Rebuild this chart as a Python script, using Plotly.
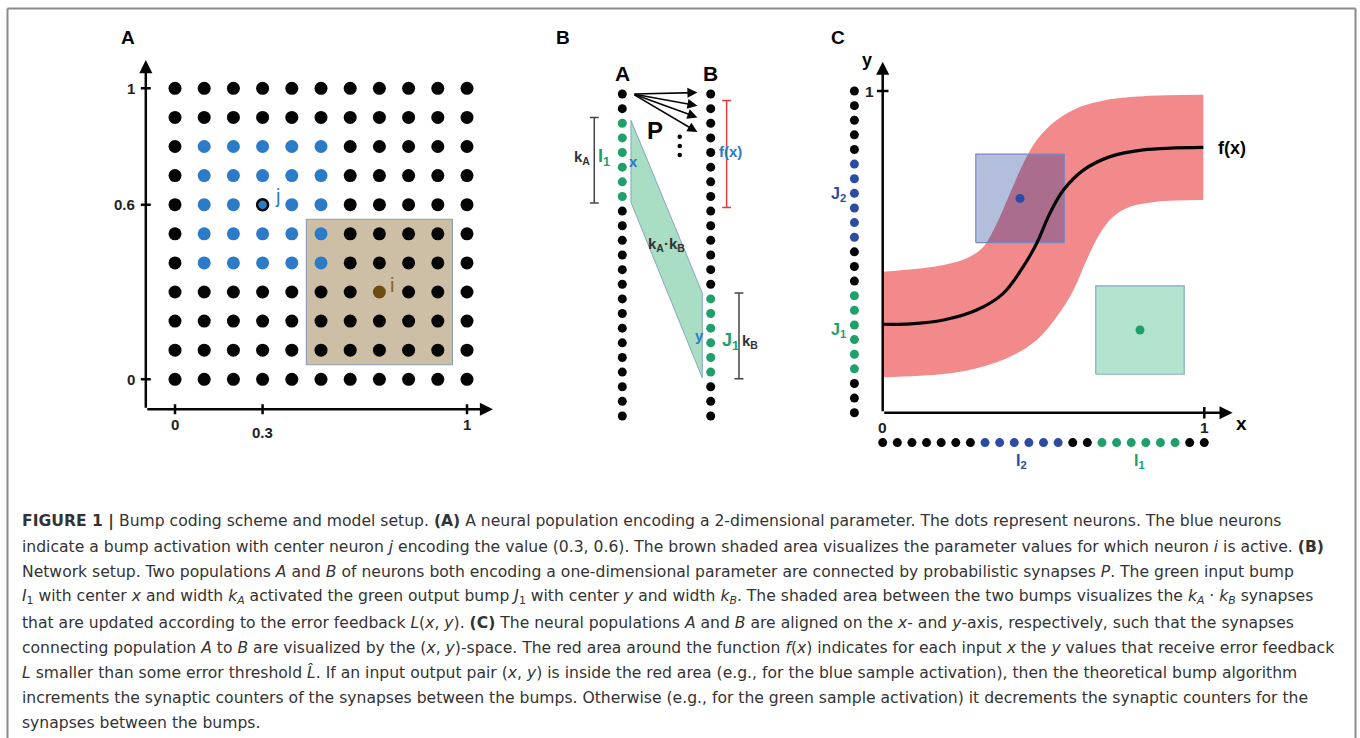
import plotly.graph_objects as go

W, H = 1360, 738

# ---------------- Panel A data ----------------
grid_values = [0.0, 0.1, 0.2, 0.3, 0.4, 0.5, 0.6, 0.7, 0.8, 0.9, 1.0]
bump_j_x = [0.1, 0.2, 0.3, 0.4, 0.5]
bump_j_y = [0.4, 0.5, 0.6, 0.7, 0.8]
neuron_j = [0.3, 0.6]
neuron_i = [0.7, 0.3]
field_i_half = 0.25
a_xticks = [0.0, 0.3, 1.0]
a_xticklabels = ["0", "0.3", "1"]
a_xlabel_y = [-0.157, -0.183, -0.157]
a_yticks = [0.0, 0.6, 1.0]
a_yticklabels = ["0", "0.6", "1"]
a_axis_origin = [-0.1, -0.103]
a_axis_tip = [1.089, 1.097]

# ---------------- Panel B data ----------------
n_neurons_B = 23
popA_bump = [2, 3, 4, 5, 6, 7]        # I1
popB_bump = [14, 15, 16, 17, 18, 19]  # J1
bumpA_span = [1.8, 7.4]
bumpB_span = [13.6, 19.4]
kA_span = [1.6, 7.45]
kB_span = [13.6, 19.45]
fx_span = [0.45, 7.75]
synapse_source = [0.12, 0.0]
synapse_targets_y = [-0.1, 0.8, 1.6, 2.6]
synapse_target_x = 0.85
ellipsis_y = [2.92, 3.55, 4.17]

# ---------------- Panel C data ----------------
n_neurons_C = 23
c_x_blue = [7, 8, 9, 10, 11, 12]     # I2
c_x_green = [15, 16, 17, 18, 19, 20]  # I1
c_y_blue = [12, 13, 14, 15, 16, 17]   # J2
c_y_green = [3, 4, 5, 6, 7, 8]        # J1
curve_x = [0.0, 0.085, 0.189, 0.292, 0.375, 0.437, 0.479, 0.52, 0.562, 0.624, 0.707, 0.81, 0.997]
curve_y = [0.275, 0.276, 0.288, 0.319, 0.371, 0.454, 0.527, 0.62, 0.692, 0.754, 0.796, 0.817, 0.825]
band_up_x = [0.0, 0.189, 0.271, 0.313, 0.355, 0.396, 0.437, 0.479, 0.541, 0.603, 0.707, 0.81, 0.997]
band_up_y = [0.438, 0.459, 0.485, 0.516, 0.589, 0.682, 0.775, 0.848, 0.91, 0.946, 0.974, 0.984, 0.988]
band_lo_x = [0.0, 0.189, 0.292, 0.396, 0.479, 0.541, 0.593, 0.634, 0.676, 0.717, 0.769, 0.852, 0.997]
band_lo_y = [0.11, 0.12, 0.138, 0.174, 0.226, 0.298, 0.381, 0.475, 0.558, 0.609, 0.64, 0.656, 0.661]
blue_sample = [0.427, 0.666]
green_sample = [0.8, 0.257]
sample_half = 0.1375
c_dot_col_x = -0.088
c_dot_row_y = -0.093
c_axis_tip = [1.088, 1.091]

caption_lines = [
    "<b>FIGURE 1 |</b> Bump coding scheme and model setup. <b>(A)</b> A neural population encoding a 2-dimensional parameter. The dots represent neurons. The blue neurons",
    "indicate a bump activation with center neuron <i>j</i> encoding the value (0.3, 0.6). The brown shaded area visualizes the parameter values for which neuron <i>i</i> is active. <b>(B)</b>",
    "Network setup. Two populations <i>A</i> and <i>B</i> of neurons both encoding a one-dimensional parameter are connected by probabilistic synapses <i>P</i>. The green input bump",
    "<i>I</i><sub>1</sub> with center <i>x</i> and width <i>k<sub>A</sub></i> activated the green output bump <i>J</i><sub>1</sub> with center <i>y</i> and width <i>k<sub>B</sub></i>. The shaded area between the two bumps visualizes the <i>k<sub>A</sub></i> · <i>k<sub>B</sub></i> synapses",
    "that are updated according to the error feedback <i>L</i>(<i>x</i>, <i>y</i>). <b>(C)</b> The neural populations <i>A</i> and <i>B</i> are aligned on the <i>x</i>- and <i>y</i>-axis, respectively, such that the synapses",
    "connecting population <i>A</i> to <i>B</i> are visualized by the (<i>x</i>, <i>y</i>)-space. The red area around the function <i>f</i>(<i>x</i>) indicates for each input <i>x</i> the <i>y</i> values that receive error feedback",
    "<i>L</i> smaller than some error threshold <i>L\u0302</i>. If an input output pair (<i>x</i>, <i>y</i>) is inside the red area (e.g., for the blue sample activation), then the theoretical bump algorithm",
    "increments the synaptic counters of the synapses between the bumps. Otherwise (e.g., for the green sample activation) it decrements the synaptic counters for the",
    "synapses between the bumps.",
]

# ---------------- colours ----------------
BLACK = "#050505"
A_BLUE = "#2b7bc8"
BROWN_FILL = "#cdbfa6"
BROWN_DOT = "#6e4c10"
GREEN = "#1fa06a"
NAVY = "#2c4ba3"
RED_BAND = "#f28a8c"
LABEL_FONT = "Liberation Sans, Arial, sans-serif"
CAPTION_FONT = "DejaVu Sans, Liberation Sans, sans-serif"

# ---------------- pixel calibration -> domains ----------------
A_X0, A_XS = 175.0, 292.0
A_Y0, A_YS = 379.3, 291.0
B_X0, B_XS = 622.3, 88.4
B_Y0, B_YS = 94.0, 14.636
C_X0, C_XS = 882.7, 321.6
C_Y0, C_YS = 412.7, 321.7


def xdom(p0, s, lo, hi):
    return [(p0 + lo * s) / W, (p0 + hi * s) / W]


def ydom_up(p0, s, lo, hi):
    return [1 - (p0 - lo * s) / H, 1 - (p0 - hi * s) / H]


def ydom_down(p0, s, lo, hi):
    return [1 - (p0 + hi * s) / H, 1 - (p0 + lo * s) / H]


A_XR, A_YR = [-0.2, 1.15], [-0.2, 1.2]
B_XR, B_YR = [-0.6, 1.7], [-3.0, 23.0]
C_XR, C_YR = [-0.2, 1.2], [-0.2, 1.15]

fig = go.Figure()


def ax(domain, rng, anchor):
    return dict(domain=domain, range=rng, visible=False, fixedrange=True, anchor=anchor)


fig.update_layout(
    width=W, height=H, autosize=False,
    margin=dict(l=0, r=0, t=0, b=0, pad=0),
    paper_bgcolor="white", plot_bgcolor="rgba(0,0,0,0)",
    showlegend=False,
    xaxis=ax(xdom(A_X0, A_XS, *A_XR), A_XR, "y"),
    yaxis=ax(ydom_up(A_Y0, A_YS, *A_YR), A_YR, "x"),
    xaxis2=ax(xdom(B_X0, B_XS, *B_XR), B_XR, "y2"),
    yaxis2=ax(ydom_down(B_Y0, B_YS, *B_YR), [B_YR[1], B_YR[0]], "x2"),
    xaxis3=ax(xdom(C_X0, C_XS, *C_XR), C_XR, "y3"),
    yaxis3=ax(ydom_up(C_Y0, C_YS, *C_YR), C_YR, "x3"),
)

shapes = []
annots = []


def txt(x, y, text, size, color, xref="x", yref="y", bold=True, xanchor="center", yanchor="middle", family=LABEL_FONT):
    annots.append(dict(x=x, y=y, xref=xref, yref=yref, text=(f"<b>{text}</b>" if bold else text),
                       showarrow=False, xanchor=xanchor, yanchor=yanchor,
                       font=dict(size=size, color=color, family=family)))


def arrow(tail, tip, xr, yr, width, size, head=2):
    annots.append(dict(x=tip[0], y=tip[1], ax=tail[0], ay=tail[1], xref=xr, yref=yr, axref=xr, ayref=yr,
                       text="", showarrow=True, arrowhead=head, arrowsize=size, arrowwidth=width,
                       arrowcolor=BLACK, standoff=0, startstandoff=0))


def line(x0, y0, x1, y1, xr, yr, color=BLACK, width=2.5):
    shapes.append(dict(type="line", x0=x0, y0=y0, x1=x1, y1=y1, xref=xr, yref=yr,
                       line=dict(color=color, width=width)))


# ================= Panel A =================
shapes.append(dict(type="rect", xref="x", yref="y",
                   x0=neuron_i[0] - field_i_half, x1=neuron_i[0] + field_i_half,
                   y0=neuron_i[1] - field_i_half, y1=neuron_i[1] + field_i_half,
                   fillcolor=BROWN_FILL, line=dict(color="#8fa0b4", width=1.2), layer="below"))

blue_set = {(bx, by) for bx in bump_j_x for by in bump_j_y}
bx_list, by_list, kx_list, ky_list = [], [], [], []
for gx in grid_values:
    for gy in grid_values:
        key = (gx, gy)
        if key == tuple(neuron_j) or key == tuple(neuron_i):
            continue
        if key in blue_set:
            bx_list.append(gx); by_list.append(gy)
        else:
            kx_list.append(gx); ky_list.append(gy)
fig.add_trace(go.Scatter(x=kx_list, y=ky_list, mode="markers", xaxis="x", yaxis="y",
                         marker=dict(size=13, color=BLACK, line=dict(width=0))))
fig.add_trace(go.Scatter(x=bx_list, y=by_list, mode="markers", xaxis="x", yaxis="y",
                         marker=dict(size=13, color=A_BLUE, line=dict(width=0))))
fig.add_trace(go.Scatter(x=[neuron_j[0]], y=[neuron_j[1]], mode="markers", xaxis="x", yaxis="y",
                         marker=dict(size=11, color=A_BLUE, line=dict(width=2.5, color=BLACK))))
fig.add_trace(go.Scatter(x=[neuron_i[0]], y=[neuron_i[1]], mode="markers", xaxis="x", yaxis="y",
                         marker=dict(size=13, color=BROWN_DOT, line=dict(width=0))))
txt(neuron_j[0] + 0.05, neuron_j[1] + 0.03, "j", 20, A_BLUE, bold=False)
txt(neuron_i[0] + 0.042, neuron_i[1] + 0.025, "i", 20, "#8a6220", bold=False)

# axes of A
arrow(a_axis_origin, [a_axis_origin[0], a_axis_tip[1]], "x", "y", 2.5, 1.05)
arrow(a_axis_origin, [a_axis_tip[0], a_axis_origin[1]], "x", "y", 2.5, 1.05)
for t, lab, ly in zip(a_xticks, a_xticklabels, a_xlabel_y):
    line(t, a_axis_origin[1] - 0.017, t, a_axis_origin[1] + 0.017, "x", "y")
    txt(t, ly, lab, 15, "#222", bold=True)
for t, lab in zip(a_yticks, a_yticklabels):
    line(a_axis_origin[0] - 0.017, t, a_axis_origin[0] + 0.017, t, "x", "y")
    txt(a_axis_origin[0] - 0.03, t, lab, 15, "#222", bold=True, xanchor="right")

# ================= Panel B =================
fig.add_trace(go.Scatter(x=[0.098, 0.098, 0.905, 0.905, 0.098],
                         y=[bumpA_span[0], bumpA_span[1], bumpB_span[1], bumpB_span[0], bumpA_span[0]],
                         mode="lines", fill="toself", fillcolor="#a9ddc4",
                         line=dict(color="#86a6c4", width=1), xaxis="x2", yaxis="y2"))
idx = list(range(n_neurons_B))
for colx, bump in ((0.0, popA_bump), (1.0, popB_bump)):
    blk = [i for i in idx if i not in bump]
    fig.add_trace(go.Scatter(x=[colx] * len(blk), y=blk, mode="markers", xaxis="x2", yaxis="y2",
                             marker=dict(size=9, color=BLACK)))
    fig.add_trace(go.Scatter(x=[colx] * len(bump), y=bump, mode="markers", xaxis="x2", yaxis="y2",
                             marker=dict(size=9, color=GREEN)))
fig.add_trace(go.Scatter(x=[0.65] * 3, y=ellipsis_y, mode="markers", xaxis="x2", yaxis="y2",
                         marker=dict(size=4.5, color=BLACK)))
for ty in synapse_targets_y:
    arrow(synapse_source, [synapse_target_x, ty], "x2", "y2", 1.6, 1.25)


def bracket(xc, span, color, xr="x2", yr="y2", cap=0.05, width=1.5):
    line(xc, span[0], xc, span[1], xr, yr, color, width)
    line(xc - cap, span[0], xc + cap, span[0], xr, yr, color, width)
    line(xc - cap, span[1], xc + cap, span[1], xr, yr, color, width)


bracket(-0.317, kA_span, "#444444")
bracket(1.32, kB_span, "#444444")
bracket(1.18, fx_span, "#e23b3b")

txt(0.0, -1.41, "A", 21, BLACK, "x2", "y2")
txt(1.0, -1.41, "B", 21, BLACK, "x2", "y2")
txt(0.37, 2.46, "P", 24, BLACK, "x2", "y2")
txt(-0.46, 4.37, "k<sub>A</sub>", 15, "#333", "x2", "y2")
txt(-0.21, 4.37, "I<sub>1</sub>", 18, GREEN, "x2", "y2")
txt(0.125, 4.63, "x", 15, A_BLUE, "x2", "y2")
txt(1.226, 3.94, "f(x)", 15, A_BLUE, "x2", "y2")
txt(0.5, 10.25, "k<sub>A</sub>·k<sub>B</sub>", 15, "#333", "x2", "y2")
txt(0.87, 16.5, "y", 15, A_BLUE, "x2", "y2")
txt(1.22, 16.9, "J<sub>1</sub>", 18, GREEN, "x2", "y2")
txt(1.44, 16.9, "k<sub>B</sub>", 15, "#333", "x2", "y2")

# ================= Panel C =================
fig.add_trace(go.Scatter(x=band_lo_x, y=band_lo_y, mode="lines", line=dict(width=0, shape="spline", color=RED_BAND),
                         xaxis="x3", yaxis="y3"))
fig.add_trace(go.Scatter(x=band_up_x, y=band_up_y, mode="lines", line=dict(width=0, shape="spline", color=RED_BAND),
                         fill="tonexty", fillcolor=RED_BAND, xaxis="x3", yaxis="y3"))


def square(center, half, fill, edge):
    cx, cy = center
    fig.add_trace(go.Scatter(x=[cx - half, cx + half, cx + half, cx - half, cx - half],
                             y=[cy - half, cy - half, cy + half, cy + half, cy - half],
                             mode="lines", fill="toself", fillcolor=fill, line=dict(color=edge, width=1.2),
                             xaxis="x3", yaxis="y3"))


square(blue_sample, sample_half, "rgba(20,50,145,0.32)", "#7488c0")
square(green_sample, sample_half, "rgba(100,200,160,0.5)", "#86aac6")
fig.add_trace(go.Scatter(x=curve_x, y=curve_y, mode="lines", line=dict(color=BLACK, width=3.2, shape="spline"),
                         xaxis="x3", yaxis="y3"))
fig.add_trace(go.Scatter(x=[blue_sample[0]], y=[blue_sample[1]], mode="markers", xaxis="x3", yaxis="y3",
                         marker=dict(size=9, color=NAVY)))
fig.add_trace(go.Scatter(x=[green_sample[0]], y=[green_sample[1]], mode="markers", xaxis="x3", yaxis="y3",
                         marker=dict(size=9, color=GREEN)))

pos = [k / (n_neurons_C - 1) for k in range(n_neurons_C)]
for group, color in ((None, BLACK), (c_y_blue, NAVY), (c_y_green, GREEN)):
    if group is None:
        ks = [k for k in range(n_neurons_C) if k not in c_y_blue and k not in c_y_green]
    else:
        ks = group
    fig.add_trace(go.Scatter(x=[c_dot_col_x] * len(ks), y=[pos[k] for k in ks], mode="markers",
                             xaxis="x3", yaxis="y3", marker=dict(size=9, color=color)))
for group, color in ((None, BLACK), (c_x_blue, NAVY), (c_x_green, GREEN)):
    if group is None:
        ks = [k for k in range(n_neurons_C) if k not in c_x_blue and k not in c_x_green]
    else:
        ks = group
    fig.add_trace(go.Scatter(x=[pos[k] for k in ks], y=[c_dot_row_y] * len(ks), mode="markers",
                             xaxis="x3", yaxis="y3", marker=dict(size=9, color=color)))

arrow([0, 0], [0, c_axis_tip[1]], "x3", "y3", 2.5, 1.05)
arrow([0, 0], [c_axis_tip[0], 0], "x3", "y3", 2.5, 1.05)
line(-0.018, 1.0, 0.018, 1.0, "x3", "y3")
line(1.0, -0.018, 1.0, 0.018, "x3", "y3")
txt(-0.042, 1.0, "1", 15.5, "#222", "x3", "y3")
txt(0.0, -0.045, "0", 15.5, "#222", "x3", "y3")
txt(1.0, -0.045, "1", 15.5, "#222", "x3", "y3")
txt(-0.05, 1.096, "y", 18, BLACK, "x3", "y3")
txt(1.116, -0.035, "x", 19, BLACK, "x3", "y3")
txt(1.085, 0.822, "f(x)", 18, BLACK, "x3", "y3")
txt(-0.139, 0.677, "J<sub>2</sub>", 16, NAVY, "x3", "y3")
txt(-0.139, 0.256, "J<sub>1</sub>", 16, GREEN, "x3", "y3")
txt(0.433, -0.152, "I<sub>2</sub>", 16, NAVY, "x3", "y3")
txt(0.8, -0.152, "I<sub>1</sub>", 16, GREEN, "x3", "y3")

# ================= panel letters =================
for lx, ly, lab in ((128, 37, "A"), (563, 37, "B"), (838, 38, "C")):
    txt(lx / W, 1 - ly / H, lab, 19, BLACK, "paper", "paper")

# ================= caption =================
CAP_Y0, CAP_DY = 521.7, 25.2
for n, text in enumerate(caption_lines):
    txt(20 / W, 1 - (CAP_Y0 + n * CAP_DY) / H, text, 15.6, "#333333", "paper", "paper",
        bold=False, xanchor="left", family=CAPTION_FONT)

# ================= frame =================
for (x0, y0, x1, y1) in ((7.5, 8.5, 7.5, H), (7.5, 8.5, 1355.5, 8.5), (1355.5, 8.5, 1355.5, H)):
    shapes.append(dict(type="line", xref="paper", yref="paper", x0=x0 / W, y0=1 - y0 / H, x1=x1 / W, y1=1 - y1 / H,
                       line=dict(color="#8a8a8a", width=2)))

fig.update_layout(shapes=shapes, annotations=annots)
fig.write_html("out.html")
